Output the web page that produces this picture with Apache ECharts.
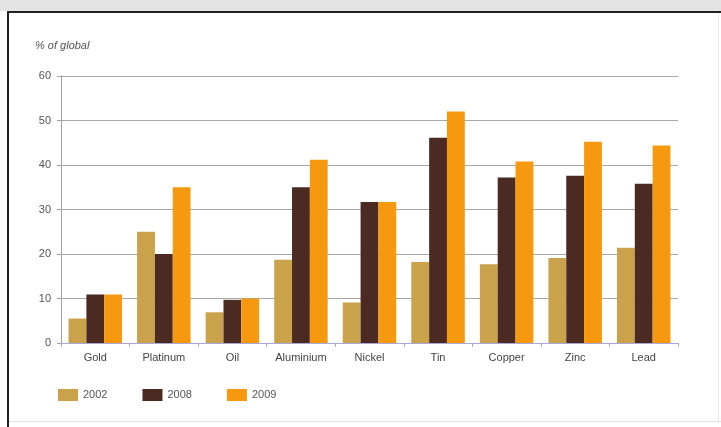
<!DOCTYPE html>
<html>
<head>
<meta charset="utf-8">
<script src="https://cdn.jsdelivr.net/npm/echarts@6/dist/echarts.min.js"></script>
<style>
  html, body { margin: 0; padding: 0; background: #ffffff; }
  #chart { width: 721px; height: 427px; }
</style>
</head>
<body>
<div id="chart"></div>
<script>
// Share of global consumption by commodity
const categories = ['Gold', 'Platinum', 'Oil', 'Aluminium', 'Nickel', 'Tin', 'Copper', 'Zinc', 'Lead'];
const years = ['2002', '2008', '2009'];
const values2002 = [5.5, 25, 6.9, 18.7, 9.1, 18.2, 17.7, 19.1, 21.4];
const values2008 = [10.9, 20, 9.7, 35, 31.7, 46.1, 37.2, 37.6, 35.8];
const values2009 = [10.9, 35, 10, 41.2, 31.7, 52, 40.8, 45.2, 44.4];
const seriesColors = ['#c9a24b', '#4b2a22', '#f7990f'];

const chart = echarts.init(document.getElementById('chart'), null, { renderer: 'canvas' });

const font = 'Arial, "Liberation Sans", sans-serif';

chart.setOption({
  animation: false,
  backgroundColor: '#ffffff',
  graphic: [
    { type: 'rect', shape: { x: 0, y: 0, width: 721, height: 11 }, style: { fill: '#e4e4e4' }, silent: true },
    { type: 'rect', shape: { x: 7, y: 11, width: 714, height: 2 }, style: { fill: '#222222' }, silent: true },
    { type: 'rect', shape: { x: 7, y: 11, width: 2, height: 416 }, style: { fill: '#222222' }, silent: true },
    { type: 'rect', shape: { x: 9, y: 421, width: 712, height: 1 }, style: { fill: '#e2e2e2' }, silent: true },
    { type: 'rect', shape: { x: 718, y: 13, width: 1, height: 408 }, style: { fill: '#e6e6e6' }, silent: true },
    {
      type: 'text', left: 35, top: 40,
      style: { text: '% of global', font: 'italic 11px ' + font, fill: '#555555' },
      silent: true
    }
  ],
  legend: {
    left: 58, top: 389, padding: 0,
    itemWidth: 20, itemHeight: 12, itemGap: 35,
    icon: 'rect',
    textStyle: { color: '#555555', fontSize: 11, fontFamily: font },
    data: years
  },
  grid: { left: 61, right: 43, top: 76, bottom: 84, containLabel: false },
  xAxis: {
    type: 'category',
    data: categories,
    axisLine: { show: true, lineStyle: { color: '#a8a8dc', width: 1 } },
    axisTick: { show: true, length: 4, interval: 0, lineStyle: { color: '#a8a8dc' } },
    axisLabel: { color: '#444444', fontSize: 11, fontFamily: font, margin: 9, interval: 0 }
  },
  yAxis: {
    type: 'value',
    min: 0, max: 60, interval: 10,
    axisLine: { show: true, lineStyle: { color: '#a0a0a0' } },
    axisTick: { show: true, length: 4, lineStyle: { color: '#a0a0a0' } },
    axisLabel: { color: '#555555', fontSize: 11, fontFamily: font, margin: 10 },
    splitLine: { show: true, lineStyle: { color: '#a8a8a8', width: 1 } }
  },
  series: [
    { name: years[0], type: 'bar', data: values2002, itemStyle: { color: seriesColors[0] }, barGap: '0%', barCategoryGap: '22%' },
    { name: years[1], type: 'bar', data: values2008, itemStyle: { color: seriesColors[1] }, barGap: '0%', barCategoryGap: '22%' },
    { name: years[2], type: 'bar', data: values2009, itemStyle: { color: seriesColors[2] }, barGap: '0%', barCategoryGap: '22%' }
  ]
});
</script>
</body>
</html>
